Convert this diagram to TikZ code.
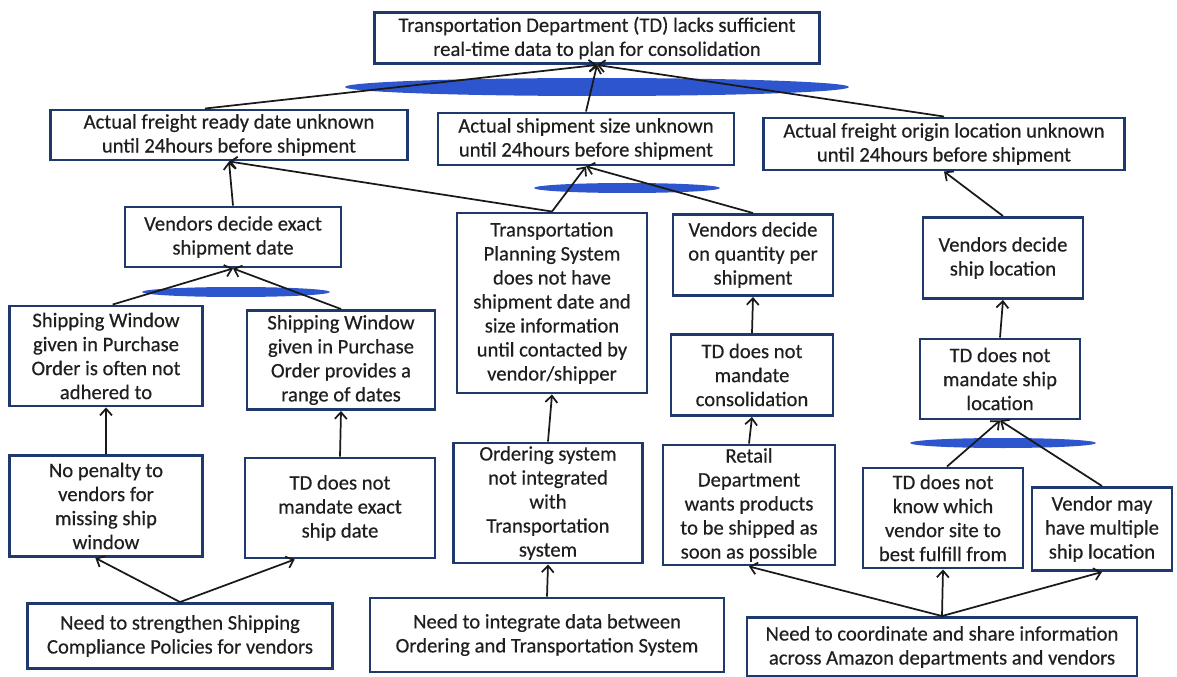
\documentclass[tikz,border=0pt]{standalone}
\usepackage{fontspec}
\setmainfont{Carlito}[FakeBold=0.4]
\usetikzlibrary{arrows.meta}
\tikzset{>={Straight Barb[length=5pt,width=9pt]}}
\definecolor{boxline}{RGB}{31,56,110}
\definecolor{ovalblue}{RGB}{45,85,205}
\tikzset{
  box/.style 2 args={draw=boxline, line width=2.2pt, fill=white, align=center,
    text=black!88, inner sep=2pt, minimum width=#1*0.75pt, minimum height=#2*0.75pt,
    font=\fontsize{15.5}{18}\selectfont},
  link/.style={->, line width=1.3pt, black!90},
  oval/.style={fill=ovalblue},
}
\begin{document}
\begin{tikzpicture}[x=0.75pt,y=-0.75pt]
  \useasboundingbox (0,0) rectangle (1177,677);
  % blue bars under the joins
  \fill[oval] (597,87) ellipse [x radius=252, y radius=9];
  \fill[oval] (627,188) ellipse [x radius=93, y radius=5];
  \fill[oval] (236,292) ellipse [x radius=94, y radius=5];
  \fill[oval] (1003,443) ellipse [x radius=93, y radius=5];

  % top problem
  \node[box={445}{51}] (top) at (597,38)
    {Transportation Department (TD) lacks sufficient\\real-time data to plan for consolidation};
  % second row
  \node[box={357}{50}] (freight) at (229,135) {Actual freight ready date unknown\\until 24hours before shipment};
  \node[box={296}{52}] (size) at (586,139) {Actual shipment size unknown\\until 24hours before shipment};
  \node[box={361}{52}] (origin) at (944,144) {Actual freight origin location unknown\\until 24hours before shipment};
  % third row
  \node[box={216}{60}] (exact) at (233,237) {Vendors decide exact\\shipment date};
  \node[box={190}{180}] (tps) at (552,303) {Transportation\\Planning System\\does not have\\shipment date and\\size information\\until contacted by\\vendor/shipper};
  \node[box={160}{81}] (qty) at (753,255) {Vendors decide\\on quantity per\\shipment};
  \node[box={160}{81}] (shiploc) at (1003,258) {Vendors decide\\ship location};
  % fourth row
  \node[box={193}{100}] (window1) at (106,356) {Shipping Window\\given in Purchase\\Order is often not\\adhered to};
  \node[box={188}{99}] (window2) at (341,360) {Shipping Window\\given in Purchase\\Order provides a\\range of dates};
  \node[box={162}{81}] (consol) at (752,375) {TD does not\\mandate\\consolidation};
  \node[box={160}{80}] (tdship) at (1000,379) {TD does not\\mandate ship\\location};
  % fifth row
  \node[box={193}{101}] (penalty) at (106,506) {No penalty to\\vendors for\\missing ship\\window};
  \node[box={190}{100}] (exactdate) at (340,508) {TD does not\\mandate exact\\ship date};
  \node[box={189}{120}] (ordering) at (548,503) {Ordering system\\not integrated\\with\\Transportation\\system};
  \node[box={172}{120}] (retail) at (749,505) {Retail\\Department\\wants products\\to be shipped as\\soon as possible};
  \node[box={160}{100}] (notknow) at (943,518) {TD does not\\know which\\vendor site to\\best fulfill from};
  \node[box={140}{83}] (multi) at (1102,529) {Vendor may\\have multiple\\ship location};
  % root causes
  \node[box={305}{65}] (strengthen) at (180,636) {Need to strengthen Shipping\\Compliance Policies for vendors};
  \node[box={354}{74}] (integrate) at (547,635) {Need to integrate data between\\Ordering and Transportation System};
  \node[box={390}{59}] (coordinate) at (942,647) {Need to coordinate and share information\\across Amazon departments and vendors};

  % connectors
  \draw[link] ([xshift=-18pt]freight.north) -- (top.south);
  \draw[link] (size.north) -- (top.south);
  \draw[link] (origin.north) -- (top.south);
  \draw[link] (exact.north) -- (freight.south);
  \draw[link] (tps.north) -- (freight.south);
  \draw[link] (tps.north) -- (size.south);
  \draw[link] (qty.north) -- (size.south);
  \draw[link] (shiploc.north) -- (origin.south);
  \draw[link] ([xshift=5pt]window1.north) -- (exact.south);
  \draw[link] (window2.north) -- (exact.south);
  \draw[link] (penalty.north) -- (window1.south);
  \draw[link] (exactdate.north) -- (window2.south);
  \draw[link] (ordering.north) -- (tps.south);
  \draw[link] (consol.north) -- (qty.south);
  \draw[link] (retail.north) -- (consol.south);
  \draw[link] (tdship.north) -- (shiploc.south);
  \draw[link] ([xshift=3pt]notknow.north) -- (tdship.south);
  \draw[link] (multi.north) -- (tdship.south);
  \draw[link] (strengthen.north) -- ([xshift=-8pt]penalty.south);
  \draw[link] (strengthen.north) -- ([xshift=-34pt]exactdate.south);
  \draw[link] (integrate.north) -- (ordering.south);
  \draw[link] (coordinate.north) -- (retail.south);
  \draw[link] (coordinate.north) -- (notknow.south);
  \draw[link] (coordinate.north) -- (multi.south);
\end{tikzpicture}
\end{document}
